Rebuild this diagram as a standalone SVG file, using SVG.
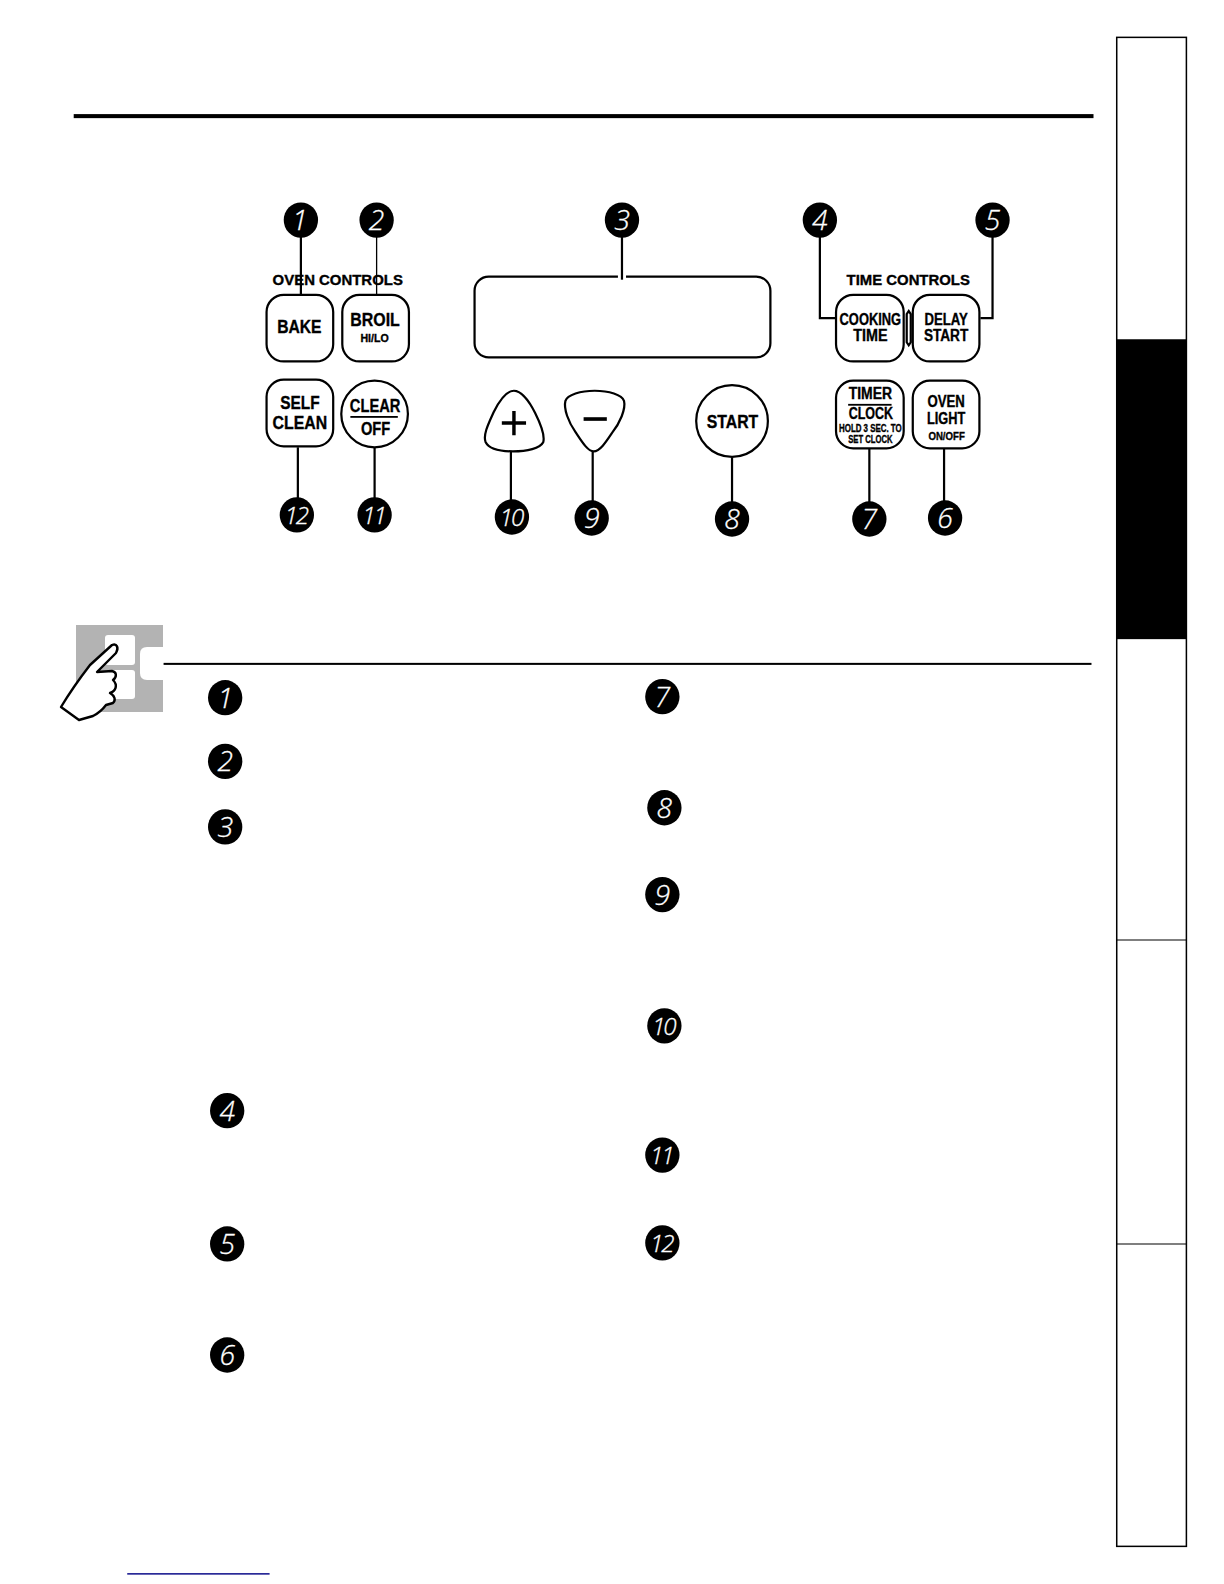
<svg xmlns="http://www.w3.org/2000/svg" width="1224" height="1584" viewBox="0 0 1224 1584">
<style>
.b{fill:#fff;stroke:#000;stroke-width:2.2}
.c{fill:none;stroke:#000;stroke-width:2.2}
.n{fill:#000}
.d{font-family:"Open Sans","Liberation Sans",sans-serif;font-style:italic;font-weight:300;font-size:28px;fill:#fff;stroke:#fff;stroke-width:.3;text-anchor:middle}
.w{font-size:24px;letter-spacing:-2px}
.t{font-family:"Liberation Sans",Arial,sans-serif;font-weight:700;fill:#000;stroke:#000;stroke-width:.35;text-anchor:middle}
</style>
<defs>
<g id="dot"><ellipse class="n" cx="0" cy="0" rx="17" ry="17.5"/></g>
</defs>
<g id="layout" transform="scale(1.0097)">
<g id="page-rules">
<rect x="73" y="113" width="1010" height="4" fill="#000"/>
<rect x="162" y="656.500" width="919" height="2" fill="#000"/>
<rect x="126" y="1558" width="141" height="1.500" fill="#10108c"/>
</g>
<g id="side-tabs">
<rect x="1106" y="37" width="69" height="1494.500" fill="#fff" stroke="#000" stroke-width="1.500"/>
<rect x="1106" y="336" width="69" height="297" fill="#000"/>
<line x1="1106" y1="931" x2="1175" y2="931" stroke="#000" stroke-width="1"/>
<line x1="1106" y1="1232" x2="1175" y2="1232" stroke="#000" stroke-width="1"/>
</g>
<g id="display"><rect class="b" x="470" y="274" width="293" height="80" rx="14"/><rect x="612" y="272" width="8" height="4" fill="#fff"/></g>
<g id="connectors">
<path class="c" d="M298 230V292"/>
<path d="M373 230V292" fill="none" stroke="#000" stroke-width="1.300"/>
<path class="c" d="M616 230V277"/>
<path class="c" d="M812 230V315H828"/>
<path class="c" d="M983 230V315H971"/>
<path class="c" d="M295 443V498"/>
<path class="c" d="M371 443V498"/>
<path class="c" d="M506 447V500"/>
<path class="c" d="M587 447V501"/>
<path class="c" d="M725 453V502"/>
<path class="c" d="M861 444V502"/>
<path class="c" d="M935 444V501"/>
</g>
<g id="section-oven-controls"><text class="t" x="334.500" y="282.500" font-size="14.500" textLength="129" lengthAdjust="spacingAndGlyphs">OVEN CONTROLS</text></g>
<g id="section-time-controls"><text class="t" x="899.500" y="282.500" font-size="14.500" textLength="122" lengthAdjust="spacingAndGlyphs">TIME CONTROLS</text></g>
<g id="bake"><rect class="b" x="264" y="292" width="66" height="66" rx="17"/><text class="t" x="296.500" y="330" font-size="18" textLength="44" lengthAdjust="spacingAndGlyphs">BAKE</text></g>
<g id="broil"><rect class="b" x="339" y="292" width="66" height="66" rx="17"/><text class="t" x="371.500" y="323" font-size="18" textLength="49" lengthAdjust="spacingAndGlyphs">BROIL</text><text class="t" x="371" y="339" font-size="11" textLength="28" lengthAdjust="spacingAndGlyphs">HI/LO</text></g>
<g id="self-clean"><rect class="b" x="264" y="376" width="66" height="66" rx="17"/><text class="t" x="297" y="405" font-size="18" textLength="39" lengthAdjust="spacingAndGlyphs">SELF</text><text class="t" x="297" y="425" font-size="18" textLength="54" lengthAdjust="spacingAndGlyphs">CLEAN</text></g>
<g id="clear-off"><circle class="b" cx="371" cy="410" r="33"/><text class="t" x="371.500" y="408" font-size="18" textLength="50" lengthAdjust="spacingAndGlyphs">CLEAR</text><rect x="347" y="412" width="47" height="1.800" fill="#000"/><text class="t" x="372" y="431" font-size="18" textLength="29" lengthAdjust="spacingAndGlyphs">OFF</text></g>
<g id="plus"><path class="b" d="M509 387C516 387 524 397 530 409C536 421 540 431 538 438C535 444 522 447 508 447C494 447 484 444 481 438C478 431 484 419 489 408C495 396 502 387 509 387Z"/><path d="M497 419H521M509 407V431" stroke="#000" stroke-width="3.400" fill="none"/></g>
<g id="minus"><path class="b" d="M589 387C603 387 616 391 618 397C620 405 614 419 606 429C600 438 594 447 588 447C582 447 576 437 570 428C563 418 558 405 560 397C562 391 575 387 589 387Z"/><path d="M578 415H601" stroke="#000" stroke-width="3.600" fill="none"/></g>
<g id="start"><circle class="b" cx="725" cy="417" r="35.500"/><text class="t" x="725.500" y="424" font-size="18" textLength="51" lengthAdjust="spacingAndGlyphs">START</text></g>
<g id="cooking-time"><rect class="b" x="828" y="292" width="67" height="66" rx="17"/><text class="t" x="862" y="322" font-size="16" textLength="61" lengthAdjust="spacingAndGlyphs">COOKING</text><text class="t" x="862" y="338" font-size="16" textLength="34" lengthAdjust="spacingAndGlyphs">TIME</text></g>
<g id="link"><path class="b" d="M898 311L900 308L902 311V339L900 342L898 339Z" stroke-width="1.300"/></g>
<g id="delay-start"><rect class="b" x="904" y="292" width="66" height="66" rx="17"/><text class="t" x="937" y="322" font-size="16" textLength="43" lengthAdjust="spacingAndGlyphs">DELAY</text><text class="t" x="937" y="338" font-size="16" textLength="44" lengthAdjust="spacingAndGlyphs">START</text></g>
<g id="timer-clock"><rect class="b" x="828" y="377" width="67" height="67" rx="17"/><text class="t" x="862" y="395" font-size="16" textLength="43" lengthAdjust="spacingAndGlyphs">TIMER</text><rect x="840" y="400" width="43" height="1.800" fill="#000"/><text class="t" x="862.500" y="415" font-size="16" textLength="44" lengthAdjust="spacingAndGlyphs">CLOCK</text><text class="t" x="862" y="428" font-size="10" textLength="62" lengthAdjust="spacingAndGlyphs">HOLD 3 SEC. TO</text><text class="t" x="862" y="439" font-size="10" textLength="44" lengthAdjust="spacingAndGlyphs">SET CLOCK</text></g>
<g id="oven-light"><rect class="b" x="904" y="377" width="66" height="67" rx="17"/><text class="t" x="937" y="403" font-size="16" textLength="37" lengthAdjust="spacingAndGlyphs">OVEN</text><text class="t" x="937" y="420" font-size="16" textLength="38" lengthAdjust="spacingAndGlyphs">LIGHT</text><text class="t" x="937.500" y="436" font-size="11" textLength="36" lengthAdjust="spacingAndGlyphs">ON/OFF</text></g>
<g id="callout-top-1"><use href="#dot" x="298" y="218"/><text class="d" x="297" y="228">1</text></g>
<g id="callout-top-2"><use href="#dot" x="373" y="218"/><text class="d" x="373" y="228">2</text></g>
<g id="callout-top-3"><use href="#dot" x="616" y="218"/><text class="d" x="616" y="228">3</text></g>
<g id="callout-top-4"><use href="#dot" x="812" y="218"/><text class="d" x="812" y="228">4</text></g>
<g id="callout-top-5"><use href="#dot" x="983" y="218"/><text class="d" x="983" y="228">5</text></g>
<g id="callout-top-12"><use href="#dot" x="294" y="510"/><text class="d w" x="293" y="519">12</text></g>
<g id="callout-top-11"><use href="#dot" x="371" y="510"/><text class="d w" x="370" y="519">11</text></g>
<g id="callout-top-10"><use href="#dot" x="507" y="512"/><text class="d w" x="506" y="521">10</text></g>
<g id="callout-top-9"><use href="#dot" x="586" y="513"/><text class="d" x="586" y="523">9</text></g>
<g id="callout-top-8"><use href="#dot" x="725" y="514"/><text class="d" x="725" y="524">8</text></g>
<g id="callout-top-7"><use href="#dot" x="861" y="514"/><text class="d" x="861" y="524">7</text></g>
<g id="callout-top-6"><use href="#dot" x="936" y="513"/><text class="d" x="936" y="523">6</text></g>
<g id="list-1"><use href="#dot" x="223" y="691"/><text class="d" x="223" y="701">1</text></g>
<g id="list-2"><use href="#dot" x="223" y="754"/><text class="d" x="223" y="764">2</text></g>
<g id="list-3"><use href="#dot" x="223" y="819"/><text class="d" x="223" y="829">3</text></g>
<g id="list-4"><use href="#dot" x="225" y="1100"/><text class="d" x="225" y="1110">4</text></g>
<g id="list-5"><use href="#dot" x="225" y="1232"/><text class="d" x="225" y="1242">5</text></g>
<g id="list-6"><use href="#dot" x="225" y="1342"/><text class="d" x="225" y="1352">6</text></g>
<g id="list-7"><use href="#dot" x="656" y="690"/><text class="d" x="656" y="700">7</text></g>
<g id="list-8"><use href="#dot" x="658" y="800"/><text class="d" x="658" y="810">8</text></g>
<g id="list-9"><use href="#dot" x="656" y="886"/><text class="d" x="656" y="896">9</text></g>
<g id="list-10"><use href="#dot" x="658" y="1016"/><text class="d w" x="657" y="1025">10</text></g>
<g id="list-11"><use href="#dot" x="656" y="1144"/><text class="d w" x="655" y="1153">11</text></g>
<g id="list-12"><use href="#dot" x="656" y="1231"/><text class="d w" x="655" y="1240">12</text></g>
</g>
<g id="hand-icon">
<rect x="76" y="625" width="87" height="87" fill="#b3b3b3"/>
<rect x="105" y="635" width="30" height="30" rx="3" fill="#fff"/>
<rect x="105" y="670" width="30" height="29" rx="3" fill="#fff"/>
<path d="M163 647H147Q140 647 140 654V673Q140 680 147 680H163Z" fill="#fff"/>
<path d="M61 707L79 720L93 716C99 713 103 709 106 705L113 703C116 700 115 696 110 693C116 691 118 685 113 680C117 677 117 672 112 671L97 672L116 653C119 648 117 643 112 645L90 665C80 678 70 692 61 707Z" fill="#fff" stroke="#000" stroke-width="2.400" stroke-linejoin="round"/>
</g>
</svg>
